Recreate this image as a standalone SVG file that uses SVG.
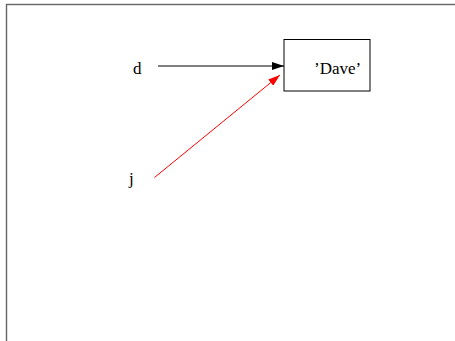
<svg xmlns="http://www.w3.org/2000/svg" width="455" height="341" viewBox="0 0 455 341">
<style>
text{font-family:"Liberation Serif","Times New Roman",serif;font-size:17px;fill:#000}
.frame{fill:none;stroke:#666;stroke-width:1.4}
.box{fill:#fff;stroke:#000;stroke-width:1}
.c{stroke-width:1;fill:none}
</style>
<defs>
<marker id="ab" viewBox="0 0 12 8" refX="12" refY="4" markerWidth="12" markerHeight="8" markerUnits="userSpaceOnUse" orient="auto"><path d="M0,0L12,4L0,8z" fill="#000"/></marker>
<marker id="ar" viewBox="0 0 12 8" refX="12" refY="4" markerWidth="12" markerHeight="8" markerUnits="userSpaceOnUse" orient="auto"><path d="M0,0L12,4L0,8z" fill="#f00"/></marker>
</defs>
<rect class="frame" x="6.5" y="4.5" width="460" height="350"/>
<g id="d"><text x="133" y="74">d</text></g>
<g id="j"><text x="129" y="184">j</text></g>
<g id="dave"><rect class="box" x="284" y="39.5" width="86" height="51.5"/><text x="314" y="74">’Dave’</text></g>
<g id="connectors">
<line class="c" x1="158" y1="66" x2="284" y2="66" stroke="#000" marker-end="url(#ab)"/>
<line class="c" x1="154.5" y1="177.5" x2="280" y2="75" stroke="#f00" marker-end="url(#ar)"/>
</g>
</svg>
